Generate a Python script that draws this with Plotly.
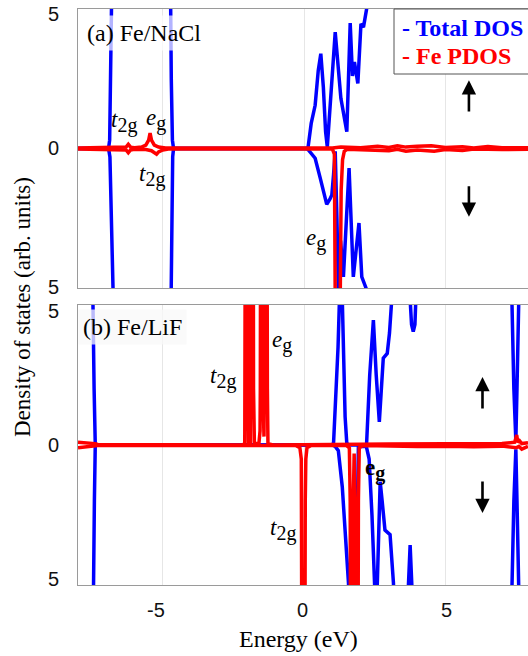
import plotly.graph_objects as go

# ---------------- data ----------------
# Panel (a) Fe/NaCl
a_tot_up_E = [-8.0, -6.92, -6.88, -6.83, -6.78, -6.72, -4.78, -4.74, -4.70, -4.66, -4.62,
              0.10, 0.14, 0.25, 0.39, 0.50, 0.59, 0.68, 0.76, 0.82, 0.90, 1.10, 1.30, 1.51,
              1.63, 1.71, 1.78, 1.90, 2.01, 2.10, 2.21, 2.30, 7.92]
a_tot_up_D = [0, 0, 0.3, 2.5, 4.8, 12, 12, 5.0, 2.5, 0.3, 0,
              0, 0.05, 0.9, 1.55, 2.8, 3.4, 2.2, 0.6, 0.05, 1.2, 4.17, 1.8, 0.6,
              4.5, 2.6, 3.1, 2.33, 4.47, 4.35, 5.0, 8, 8]
a_tot_dn_E = [-8.0, -6.92, -6.87, -6.78, -6.69, -6.60, -4.78, -4.71, -4.68, -4.65, -4.62,
              0.10, 0.15, 0.39, 0.57, 0.80, 0.92, 0.98, 1.04, 1.10, 1.16, 1.22, 1.29, 1.39,
              1.59, 1.74, 1.94, 2.04, 2.19, 2.30, 7.92]
a_tot_dn_D = [0, 0, -0.3, -2.5, -4.8, -12, -12, -5.0, -2.5, -0.3, 0,
              0, -0.05, -0.35, -1.06, -2.0, -1.8, -1.66, -0.95, -0.1, -2.5, -5.5, -3.3, -4.6,
              -0.7, -4.6, -2.67, -4.6, -5.0, -8, -8]
a_fe_up_E = [-8.0, -6.4, -6.3, -6.22, -6.14, -6.0, -5.75, -5.6, -5.5, -5.45, -5.40, -5.3,
             -5.15, -4.9, 0.5, 1.0, 1.3, 2.0, 2.6, 3.0, 3.3, 3.6, 4.0, 4.5, 5.0, 5.6, 6.0,
             6.5, 7.0, 7.92]
a_fe_up_D = [0.02, 0.02, 0.05, 0.15, 0.05, 0.03, 0.05, 0.12, 0.3, 0.55, 0.3, 0.12,
             0.05, 0.02, 0.0, 0.02, 0.05, 0.03, 0.08, 0.04, 0.1, 0.05, 0.08, 0.1, 0.04, 0.06,
             0.02, 0.07, 0.03, 0.03]
a_fe_dn_E = [-8.0, -6.4, -6.3, -6.22, -6.14, -6.0, -5.6, -5.4, -5.28, -5.22, -5.15, -5.0,
             -4.8, 0.5, 1.0, 1.07, 1.10, 1.12, 1.24, 1.28, 1.31, 1.36, 1.42, 1.52, 2.0, 2.5,
             3.0, 3.3, 3.6, 4.0, 4.6, 5.0, 5.6, 6.0, 7.0, 7.92]
a_fe_dn_D = [-0.02, -0.02, -0.05, -0.15, -0.05, -0.03, -0.04, -0.08, -0.15, -0.2, -0.12,
             -0.05, -0.02, 0, -0.02, -0.2, -2, -30, -30, -5, -1.5, -0.4, -0.1, -0.03, -0.03,
             -0.06, -0.08, -0.03, -0.1, -0.05, -0.1, -0.04, -0.07, -0.02, -0.04, -0.03]

# Panel (b) Fe/LiF
b_tot_up_E = [-8.0, -7.6, -7.5, -7.47, -7.43, -7.39, -7.33, 0.95, 1.04, 1.12, 1.20, 1.25,
              1.30, 1.35, 1.39, 1.45, 1.51, 1.6, 2.15, 2.21, 2.32, 2.45, 2.55, 2.66, 2.72,
              2.80, 2.94, 3.02, 3.10, 3.2, 3.7, 3.75, 3.80, 3.86, 3.92, 3.98, 4.05, 7.25,
              7.35, 7.42, 7.49, 7.53, 7.58, 7.65, 7.92]
b_tot_up_D = [12, 12, 6, 5.0, 2.0, 0.05, 0, 0, 0.05, 1.5, 3.5, 5.2,
              9, 5.2, 3.5, 1.0, 0.05, 0, 0, 0.05, 2.5, 4.46, 2.5, 0.83, 1.8,
              3.1, 3.27, 4.0, 5.2, 8, 8, 5.2, 4.3, 4.05, 4.3, 5.2, 8, 8,
              5.2, 2.0, 0.15, 2.0, 5.2, 8, 8]
b_tot_dn_E = [-8.0, -7.6, -7.5, -7.45, -7.42, -7.39, -7.33, 1.0, 1.10, 1.21, 1.35, 1.47,
              1.57, 1.62, 1.78, 1.84, 1.88, 1.92, 2.20, 2.30, 2.40, 2.51, 2.55, 2.59, 2.69,
              2.76, 2.86, 3.04, 3.10, 3.16, 3.22, 3.62, 3.69, 3.75, 3.81, 3.88, 7.25, 7.35,
              7.42, 7.49, 7.53, 7.58, 7.65, 7.92]
b_tot_dn_D = [-12, -12, -6, -5.0, -2.0, -0.05, 0, 0, -0.05, -0.2, -1.5, -3.2,
              -4.94, -8, -8, -5.2, -1, -0.05, -0.05, -0.5, -2.5, -4.93, -6.5, -4.9, -1.31,
              -2.0, -3.04, -3.2, -4.0, -4.93, -7, -7, -5, -3.57, -5, -7, -8, -5.2,
              -2.0, -0.15, -2.0, -5.2, -8, -8]
b_fe_up_E = [-8.0, -7.5, -7.4, -7.3, -2.2, -2.10, -2.08, -2.035, -1.99, -1.97, -1.90,
             -1.87, -1.83, -1.79, -1.76, -1.60, -1.56, -1.55, -1.505, -1.46, -1.44, -1.42,
             -1.41, -1.355, -1.30, -1.28, -1.1, 0.5, 1.0, 2.0, 3.0, 4.0, 5.0, 6.0, 7.0,
             7.45, 7.52, 7.56, 7.62, 7.7, 7.92]
b_fe_up_D = [0.1, 0.08, 0.05, 0.02, 0, 0.05, 2, 30, 2, 0.05, 0.05,
             2, 30, 2, 0.05, 0.05, 0.5, 2, 30, 2, 0.3, 0.3,
             2, 30, 2, 0.05, 0, 0, 0.02, 0.03, 0.04, 0.05, 0.04, 0.06, 0.05,
             0.1, 0.36, 0.1, 0.15, 0.05, 0.08]
b_fe_dn_E = [-8.0, -7.5, -7.3, -0.3, -0.15, -0.10, -0.08, -0.02, 0.04, 0.06, 0.10, 0.25,
             1.5, 1.6, 1.63, 1.685, 1.74, 1.77, 1.80, 1.86, 1.92, 1.95, 2.1, 3.0, 4.0, 5.0,
             6.0, 7.0, 7.5, 7.6, 7.7, 7.92]
b_fe_dn_D = [-0.1, -0.05, -0.02, -0.02, -0.1, -0.5, -2, -30, -2, -0.5, -0.1, -0.02,
             -0.02, -0.1, -2, -30, -2, -0.3, -2, -30, -2, -0.1, -0.02, -0.04, -0.05, -0.04,
             -0.06, -0.04, -0.1, -0.05, -0.15, -0.05]

x_ticks = [-5, 0, 5]
x_ticktext = ["-5", "0", "5"]
y_ticks = [-5, 0, 5]
y_ticktext = ["5", "0", "5"]

BLUE = "#0000ff"
RED = "#ff0000"
SERIF = "Liberation Serif"
SANS = "Liberation Sans"

fig = go.Figure()

def add(E, D, color, xa, ya):
    fig.add_trace(go.Scatter(x=E, y=D, mode="lines", xaxis=xa, yaxis=ya,
                             line=dict(color=color, width=3.5), showlegend=False,
                             hoverinfo="skip"))

# panel (a) uses x2/y2 (top), panel (b) uses x/y (bottom)
add(a_tot_up_E, a_tot_up_D, BLUE, "x2", "y2")
add(a_tot_dn_E, a_tot_dn_D, BLUE, "x2", "y2")
add(a_fe_up_E, a_fe_up_D, RED, "x2", "y2")
add(a_fe_dn_E, a_fe_dn_D, RED, "x2", "y2")
add(b_tot_up_E, b_tot_up_D, BLUE, "x", "y")
add(b_tot_dn_E, b_tot_dn_D, BLUE, "x", "y")
add(b_fe_up_E, b_fe_up_D, RED, "x", "y")
add(b_fe_dn_E, b_fe_dn_D, RED, "x", "y")

FRAME = "#9a9a9a"
GRID = "#e6e6e6"
xcommon = dict(range=[-8, 7.92], tickvals=x_ticks, showgrid=True, showticklabels=False,
               gridcolor=GRID, gridwidth=1, zeroline=False, showline=True, linecolor=FRAME,
               linewidth=1, mirror=True, ticks="")
ycommon = dict(range=[-5, 5], tickvals=y_ticks, showgrid=False, showticklabels=False,
               zeroline=False, showline=True, linecolor=FRAME, linewidth=1, mirror=False,
               ticks="")

fig.update_layout(
    width=528, height=656,
    margin=dict(l=78, r=0, t=9, b=71),
    paper_bgcolor="white", plot_bgcolor="white",
    xaxis=dict(**xcommon, anchor="y"),
    yaxis=dict(**ycommon, domain=[0, 0.4861], anchor="x"),
    xaxis2=dict(**xcommon, anchor="y2", matches="x"),
    yaxis2=dict(**ycommon, domain=[0.5156, 1], anchor="x2"),
)

def px2paper_x(px):
    return (px - 78) / 450.0
def px2paper_y(py):
    return (585 - py) / 576.0

ann = []
def txt(x, y, text, xref, yref, size=23, family=SERIF, color="black", **kw):
    d = dict(x=x, y=y, text=text, xref=xref, yref=yref, showarrow=False,
             font=dict(family=family, size=size, color=color))
    d.update(kw)
    ann.append(d)

# tick labels (placed like the reference)
x_tick_px = [156, 302.5, 446]
for lab, px in zip(x_ticktext, x_tick_px):
    txt(px2paper_x(px), px2paper_y(610), lab, "paper", "paper", size=20, family=SANS,
        color="#111", xanchor="center", yanchor="middle")
y_tick_py = [[287, 148, 14], [579, 445, 311]]
for panel in y_tick_py:
    for lab, py in zip(y_ticktext, panel):
        txt(px2paper_x(53), px2paper_y(py), lab, "paper", "paper", size=20, family=SANS,
            color="#111", xanchor="center", yanchor="middle")

# panel labels
txt(0.008, 0.958, "(a) Fe/NaCl", "paper", "paper", size=24, xanchor="left",
    yanchor="middle", bgcolor="rgba(255,255,255,0.7)", borderpad=4)
txt(0.0, 0.448, "(b) Fe/LiF", "paper", "paper", size=24, xanchor="left",
    yanchor="middle", bgcolor="rgba(248,248,248,0.75)", borderpad=4)

# orbital labels
SUB = '<sub><span style="font-size:20px">%s</span></sub>'
T2G = "<i>t</i>" + SUB % "2g"
EG = "<i>e</i>" + SUB % "g"
txt(-6.36, 0.95, T2G, "x2", "y2")
txt(-5.23, 1.02, EG, "x2", "y2")
txt(-5.37, -0.98, T2G, "x2", "y2")
txt(0.42, -3.27, EG, "x2", "y2")
txt(-2.86, 2.39, T2G, "x", "y")
txt(-0.78, 3.68, EG, "x", "y")
txt(2.51, -0.89, "<b>e</b>" + SUB % "<b>g</b>", "x", "y")
txt(-0.74, -3.04, T2G, "x", "y")

# spin arrows
def arrow(x, yhead, ytail, xref, yref):
    ann.append(dict(x=x, y=yhead, ax=x, ay=ytail, xref=xref, yref=yref, axref=xref,
                    ayref=yref, showarrow=True, arrowhead=2, arrowsize=1.1, arrowwidth=2.6,
                    arrowcolor="black", text=""))
arrow(5.83, 2.45, 1.27, "x2", "y2")
arrow(5.83, -2.45, -1.30, "x2", "y2")
arrow(6.31, 2.43, 1.25, "x", "y")
arrow(6.31, -2.43, -1.25, "x", "y")

# legend text
txt(px2paper_x(400), px2paper_y(28), "<b>- Total DOS</b>", "paper", "paper", size=24,
    color=BLUE, xanchor="left", yanchor="middle")
txt(px2paper_x(400), px2paper_y(56), "<b>- Fe PDOS</b>", "paper", "paper", size=24,
    color=RED, xanchor="left", yanchor="middle")

# axis titles
txt(px2paper_x(298), px2paper_y(639), "Energy (eV)", "paper", "paper", size=24,
    yanchor="middle")
txt(px2paper_x(22), px2paper_y(307), "Density of states (arb. units)", "paper", "paper",
    textangle=-90, xanchor="center", yanchor="middle")

fig.update_layout(annotations=ann)

fig.add_shape(type="rect", xref="paper", yref="paper",
              x0=px2paper_x(394), x1=px2paper_x(560), y0=px2paper_y(74), y1=px2paper_y(9),
              line=dict(color="#555", width=1), fillcolor="white", layer="above")

fig.write_html("out.html")
